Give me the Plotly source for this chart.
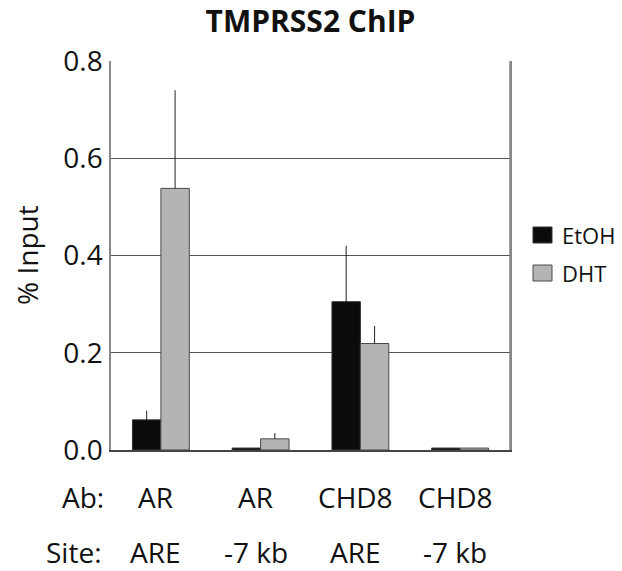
import plotly.graph_objects as go

ab_labels = ["AR", "AR", "CHD8", "CHD8"]
site_labels = ["ARE", "-7 kb", "ARE", "-7 kb"]
categories = ["AR ARE", "AR -7 kb", "CHD8 ARE", "CHD8 -7 kb"]
series_names = ["EtOH", "DHT"]
etoh = [0.062, 0.004, 0.305, 0.004]
etoh_err = [0.019, 0.0, 0.115, 0.0]
dht = [0.538, 0.023, 0.219, 0.004]
dht_err = [0.202, 0.012, 0.036, 0.0]
y_ticks = [0.0, 0.2, 0.4, 0.6, 0.8]

FONT = "Open Sans"
TXT = "#111111"
COLORS = ["#0b0b0b", "#b3b4b3"]
EDGES = ["#333333", "#4a4a4a"]

# figure geometry in pixels (page body margin removed below)
W, H = 622, 571
L, R, T, B = 111, 510, 61, 450


def px_x(p):
    return (p - L) / (R - L)


def px_y(p):
    return (B - p) / (B - T)


fig = go.Figure()
for name, vals, errs, col, edge in zip(series_names, [etoh, dht], [etoh_err, dht_err], COLORS, EDGES):
    fig.add_trace(go.Bar(
        x=categories, y=vals, name=name, showlegend=False,
        marker=dict(color=col, line=dict(color=edge, width=1)),
        error_y=dict(type="data", array=errs, arrayminus=[0] * len(errs), symmetric=False,
                     color="#222222", thickness=1, width=0),
    ))

annotations = []
for c, a, s in zip(categories, ab_labels, site_labels):
    annotations.append(dict(x=c, y=px_y(497), xref="x", yref="paper", text=a, showarrow=False,
                            xshift=-5, font=dict(size=28, color=TXT), yanchor="middle"))
    annotations.append(dict(x=c, y=px_y(552), xref="x", yref="paper", text=s, showarrow=False,
                            xshift=-5, font=dict(size=28, color=TXT), yanchor="middle"))
annotations.append(dict(x=px_x(106), y=px_y(497), xref="paper", yref="paper", text="Ab:",
                        showarrow=False, xanchor="right", yanchor="middle",
                        font=dict(size=28, color=TXT)))
annotations.append(dict(x=px_x(103), y=px_y(552), xref="paper", yref="paper", text="Site:",
                        showarrow=False, xanchor="right", yanchor="middle",
                        font=dict(size=28, color=TXT)))
# y axis title
annotations.append(dict(x=px_x(27), y=px_y(255), xref="paper", yref="paper", text="% Input",
                        showarrow=False, textangle=-90, xanchor="center", yanchor="middle",
                        font=dict(size=28, color=TXT)))

# manual legend
shapes = []
leg_y = [227, 265]
for name, col, edge, yy in zip(series_names, COLORS, EDGES, leg_y):
    shapes.append(dict(type="rect", xref="paper", yref="paper",
                       x0=px_x(533), x1=px_x(552), y0=px_y(yy), y1=px_y(yy + 16),
                       fillcolor=col, line=dict(color=edge, width=1)))
    annotations.append(dict(x=px_x(560), y=px_y(yy + 8), xref="paper", yref="paper", text=name,
                            showarrow=False, xanchor="left", yanchor="middle",
                            font=dict(size=22, color=TXT)))
# right frame line
shapes.append(dict(type="line", xref="paper", yref="paper", x0=1, x1=1, y0=0, y1=1,
                   line=dict(color="#888888", width=1.5)))

fig.update_layout(
    width=W, height=H,
    margin=dict(l=L, r=W - R, t=T, b=H - B, pad=0),
    paper_bgcolor="white", plot_bgcolor="white",
    font=dict(family=FONT, size=28, color=TXT),
    title=dict(text="<b>TMPRSS2 ChIP</b>", x=0.5, xanchor="center", xref="paper",
               y=1 - 21 / H, yanchor="middle",
               font=dict(size=30, family=FONT, color=TXT)),
    barmode="group", bargap=0.43, bargroupgap=0,
    showlegend=False,
    annotations=annotations,
    shapes=shapes,
    xaxis=dict(showticklabels=False, showline=True, linecolor="#444", linewidth=2,
               showgrid=False, zeroline=False, range=[-0.5, 3.5]),
    yaxis=dict(range=[0, 0.8], tickvals=y_ticks, tickformat=".1f", showgrid=True,
               gridcolor="#555", gridwidth=1.2, showline=True, linecolor="#888", linewidth=1.5,
               mirror=True, zeroline=False,
               ticks="", ticklen=0, ticklabelstandoff=1, automargin=False,
               tickfont=dict(size=28)),
)
fig.write_html("out.html", config={"displayModeBar": False},
               post_script="document.body.style.margin='0';")
